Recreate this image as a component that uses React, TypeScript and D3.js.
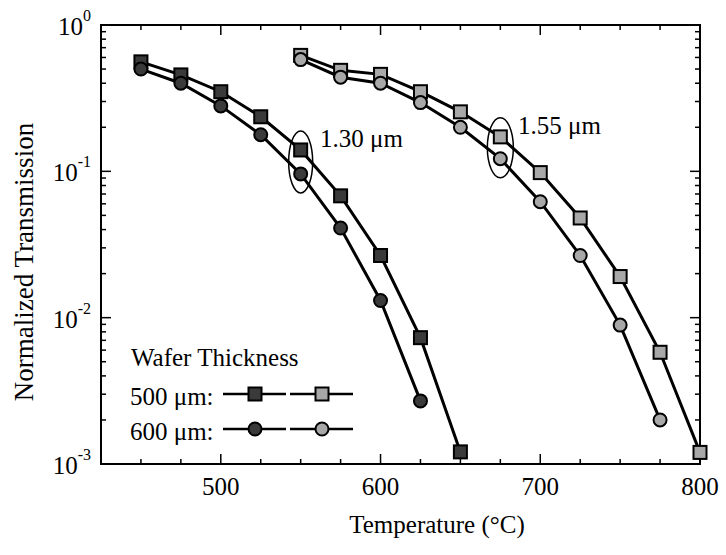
import React from "react";
import * as d3 from "d3";

// Normalized transmission vs. temperature, two wavelengths, two wafer thicknesses
const temps130Thin = [450, 475, 500, 525, 550, 575, 600, 625, 650];
const trans130Thin = [0.56, 0.456, 0.35, 0.236, 0.14, 0.068, 0.0266, 0.0073, 0.00121];
const temps130Thick = [450, 475, 500, 525, 550, 575, 600, 625];
const trans130Thick = [0.5, 0.4, 0.28, 0.178, 0.096, 0.041, 0.0131, 0.0027];
const temps155Thin = [550, 575, 600, 625, 650, 675, 700, 725, 750, 775, 800];
const trans155Thin = [0.62, 0.49, 0.46, 0.35, 0.255, 0.172, 0.098, 0.048, 0.0191, 0.0058, 0.0012];
const temps155Thick = [550, 575, 600, 625, 650, 675, 700, 725, 750, 775];
const trans155Thick = [0.58, 0.44, 0.4, 0.295, 0.2, 0.122, 0.062, 0.0266, 0.0089, 0.002];

const xMajorTicks = [500, 600, 700, 800];
const yDecades = [-3, -2, -1, 0];
const legendRows = ["500 μm:", "600 μm:"];

const W = 726;
const H = 555;
const FONT = "Liberation Serif";

type Series = { t: number[]; v: number[]; shape: "square" | "circle"; fill: string };

const series: Series[] = [
  { t: temps130Thin, v: trans130Thin, shape: "square", fill: "#3a3a3a" },
  { t: temps130Thick, v: trans130Thick, shape: "circle", fill: "#3a3a3a" },
  { t: temps155Thin, v: trans155Thin, shape: "square", fill: "#a8a8a8" },
  { t: temps155Thick, v: trans155Thick, shape: "circle", fill: "#a8a8a8" },
];

function Marker({ x, y, shape, fill }: { x: number; y: number; shape: string; fill: string }) {
  if (shape === "square") {
    return <rect x={x - 6.5} y={y - 6.5} width={13} height={13} fill={fill} stroke="#000" strokeWidth={2} />;
  }
  return <circle cx={x} cy={y} r={6.5} fill={fill} stroke="#000" strokeWidth={2} />;
}

export default function App() {
  const left = 101, right = 700, top = 25, bottom = 464;
  const x = d3.scaleLinear().domain([425, 800]).range([left, right]);
  const y = d3.scaleLog().domain([1e-3, 1]).range([bottom, top]);

  const line = d3
    .line<[number, number]>()
    .x((d) => x(d[0]))
    .y((d) => y(d[1]));

  const xMinor = d3.range(450, 800, 25).filter((t) => t % 100 !== 0);
  const yMinor: number[] = [];
  for (let e = -3; e < 0; e++) for (let k = 2; k <= 9; k++) yMinor.push(k * Math.pow(10, e));

  const ell130 = { t: 550, v: Math.sqrt(trans130Thin[4] * trans130Thick[4]) };
  const ell155 = { t: 675, v: Math.sqrt(trans155Thin[5] * trans155Thick[5]) };

  const txt = { fontFamily: FONT, fill: "#000" } as const;

  return (
    <svg width={W} height={H} style={{ position: "absolute", left: 0, top: 0, background: "#fff" }}>
      {/* ticks */}
      <g stroke="#000" strokeWidth={1.5}>
        {xMajorTicks.map((t) => (
          <g key={"xM" + t}>
            <line x1={x(t)} x2={x(t)} y1={bottom} y2={bottom - 10} />
            <line x1={x(t)} x2={x(t)} y1={top} y2={top + 10} />
          </g>
        ))}
        {xMinor.map((t) => (
          <g key={"xm" + t}>
            <line x1={x(t)} x2={x(t)} y1={bottom} y2={bottom - 5} />
            <line x1={x(t)} x2={x(t)} y1={top} y2={top + 5} />
          </g>
        ))}
        {yDecades.map((e) => (
          <g key={"yM" + e}>
            <line x1={left} x2={left + 10} y1={y(Math.pow(10, e))} y2={y(Math.pow(10, e))} />
            <line x1={right} x2={right - 10} y1={y(Math.pow(10, e))} y2={y(Math.pow(10, e))} />
          </g>
        ))}
        {yMinor.map((v, i) => (
          <g key={"ym" + i}>
            <line x1={left} x2={left + 5} y1={y(v)} y2={y(v)} />
            <line x1={right} x2={right - 5} y1={y(v)} y2={y(v)} />
          </g>
        ))}
      </g>
      <rect x={left} y={top} width={right - left} height={bottom - top} fill="none" stroke="#000" strokeWidth={2} />

      {/* tick labels */}
      {xMajorTicks.map((t) => (
        <text key={"xl" + t} x={x(t)} y={495} fontSize={25} textAnchor="middle" style={txt}>
          {t}
        </text>
      ))}
      {yDecades.map((e) => (
        <text key={"yl" + e} x={91} y={y(Math.pow(10, e)) + 10} fontSize={25} textAnchor="end" style={txt}>
          10
          <tspan fontSize={16} dy={-14}>
            {e}
          </tspan>
        </text>
      ))}
      <text x={437} y={533} fontSize={25} textAnchor="middle" style={txt}>
        Temperature (°C)
      </text>
      <text transform="translate(33,262) rotate(-90)" fontSize={27} textAnchor="middle" style={txt}>
        Normalized Transmission
      </text>

      {/* data */}
      {series.map((s, i) => (
        <g key={"s" + i}>
          <path
            d={line(s.t.map((t, j) => [t, s.v[j]] as [number, number])) || ""}
            fill="none"
            stroke="#000"
            strokeWidth={3}
          />
          {s.t.map((t, j) => (
            <Marker key={j} x={x(t)} y={y(s.v[j])} shape={s.shape} fill={s.fill} />
          ))}
        </g>
      ))}

      {/* annotations */}
      <ellipse cx={x(ell130.t)} cy={y(ell130.v)} rx={12} ry={31} fill="none" stroke="#000" strokeWidth={1.5} />
      <ellipse cx={x(ell155.t)} cy={y(ell155.v)} rx={13} ry={30} fill="none" stroke="#000" strokeWidth={1.5} />
      <text x={320} y={147} fontSize={25} style={txt}>
        1.30 μm
      </text>
      <text x={518} y={134} fontSize={25} style={txt}>
        1.55 μm
      </text>

      {/* legend */}
      <text x={131} y={366} fontSize={25} style={txt}>
        Wafer Thickness
      </text>
      {legendRows.map((label, r) => {
        const ly = 394 + r * 35;
        const shape = r === 0 ? "square" : "circle";
        return (
          <g key={label}>
            <text x={130} y={ly + 11} fontSize={25} style={txt}>
              {label}
            </text>
            <line x1={223} x2={286} y1={ly} y2={ly} stroke="#000" strokeWidth={2.5} />
            <line x1={290} x2={353} y1={ly} y2={ly} stroke="#000" strokeWidth={2.5} />
            <Marker x={255} y={ly} shape={shape} fill="#3a3a3a" />
            <Marker x={322} y={ly} shape={shape} fill="#a8a8a8" />
          </g>
        );
      })}
    </svg>
  );
}
